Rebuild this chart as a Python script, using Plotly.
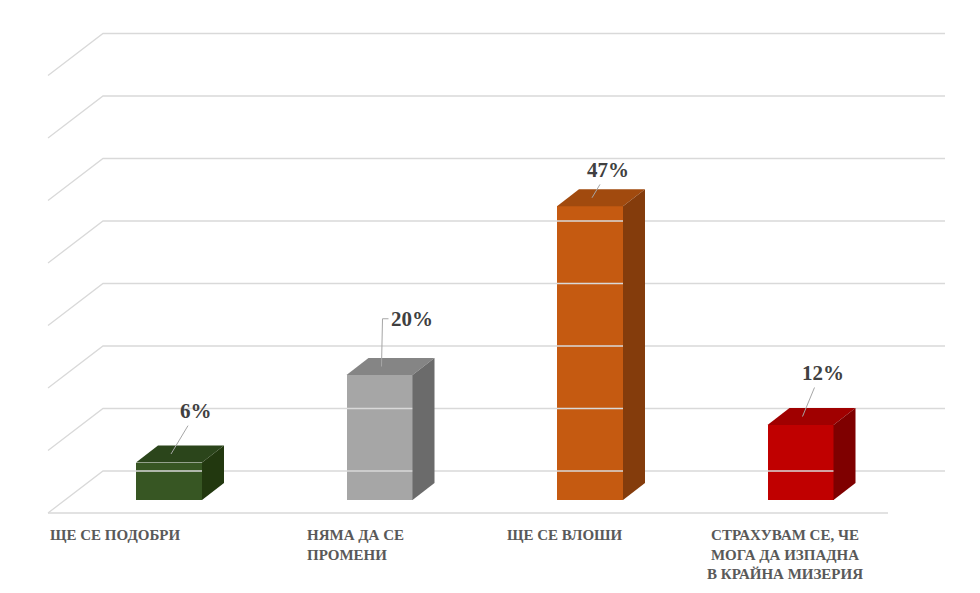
import plotly.graph_objects as go

categories = ["ЩЕ СЕ ПОДОБРИ", "НЯМА ДА СЕ<br>ПРОМЕНИ", "ЩЕ СЕ ВЛОШИ", "СТРАХУВАМ СЕ, ЧЕ<br>МОГА ДА ИЗПАДНА<br>В КРАЙНА МИЗЕРИЯ"]
values = [6, 20, 47, 12]
labels = ["6%", "20%", "47%", "12%"]
front_colors = ["#375623", "#a6a6a6", "#c55a11", "#c00000"]
top_colors = ["#2b451b", "#858585", "#a14a0e", "#a00000"]
side_colors = ["#22380f", "#6b6b6b", "#843c0c", "#7f0000"]

PX = 6.25            # pixels per percent
X0, STEP, W = 161, 210.5, 66
DX, DY = 22, 17 / PX
WALL = 29 / PX       # back wall base offset
centers = [X0 + STEP * i for i in range(len(values))]

fig = go.Figure()

# grid (back wall + left diagonals)
gx, gy = [], []
for k in range(8):
    v = WALL + 10 * k
    gx += [40, 95, 937, None]
    gy += [v - 42 / PX, v, v, None]
gx += [40, 880, None]
gy += [-13 / PX, -13 / PX, None]
fig.add_trace(go.Scatter(x=gx, y=gy, mode="lines", line=dict(color="#d9d9d9", width=1.3), hoverinfo="skip"))

fig.add_trace(go.Bar(x=centers, y=values, width=W, marker=dict(color=front_colors, line=dict(width=0)), hoverinfo="skip"))

for c, v, tc, sc in zip(centers, values, top_colors, side_colors):
    l, r = c - W / 2, c + W / 2
    fig.add_trace(go.Scatter(x=[l, l + DX, r + DX, r, l], y=[v, v + DY, v + DY, v, v], fill="toself",
                             fillcolor=tc, mode="lines", line=dict(width=0, color=tc), hoverinfo="skip"))
    fig.add_trace(go.Scatter(x=[r, r + DX, r + DX, r, r], y=[0, DY, v + DY, v, 0], fill="toself",
                             fillcolor=sc, mode="lines", line=dict(width=0, color=sc), hoverinfo="skip"))

# data labels with leader lines
lab_off = [(27, 8.2), (31, 9.0), (18, 5.8), (22, 8.3)]
font_lab = dict(family="Liberation Serif", size=21, color="#404040")
for i, (c, v, t) in enumerate(zip(centers, values, labels)):
    ox, oy = lab_off[i]
    lx, ly = c + ox, v + oy
    if i == 1:
        fig.add_trace(go.Scatter(x=[c + 2, c + 3, c + 9], y=[v + DY / 2, ly, ly], mode="lines",
                                 line=dict(color="#a6a6a6", width=1), hoverinfo="skip"))
        fig.add_annotation(x=c + 9, y=ly, text="<b>%s</b>" % t, showarrow=False, xanchor="left", font=font_lab)
    else:
        fig.add_trace(go.Scatter(x=[c + 2, lx - 8], y=[v + DY / 2, ly - 2.3], mode="lines",
                                 line=dict(color="#a6a6a6", width=1), hoverinfo="skip"))
        fig.add_annotation(x=lx, y=ly, text="<b>%s</b>" % t, showarrow=False, font=font_lab)

# category labels
cat_x = [40, 297, 497, 777]
anchors = ["left", "left", "left", "center"]
for t, x, a in zip(categories, cat_x, anchors):
    fig.add_annotation(x=x, y=(492 - 517) / PX, text="<b>%s</b>" % t, showarrow=False, xanchor=a,
                       yanchor="top", align=a, font=dict(family="Liberation Serif", size=15, color="#595959"))

fig.update_layout(width=980, height=593, margin=dict(l=0, r=0, t=0, b=0), showlegend=False,
                  paper_bgcolor="white", plot_bgcolor="white", bargap=0)
fig.update_xaxes(range=[0, 980], visible=False)
fig.update_yaxes(range=[(492 - 593) / PX, 492 / PX], visible=False)
fig.write_html("out.html")
